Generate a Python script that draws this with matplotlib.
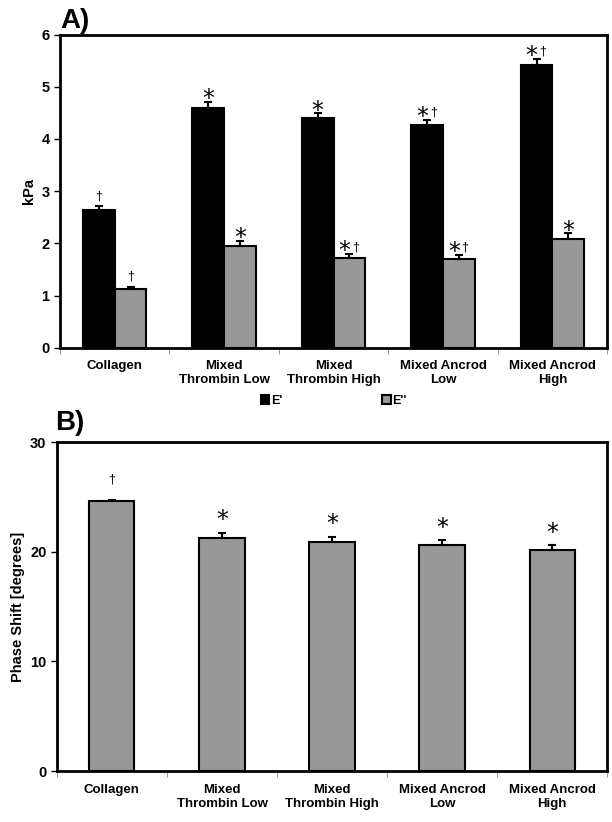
import numpy as np
from matplotlib import pyplot as plt

plt.rcParams['font.family'] = ['Liberation Sans', 'DejaVu Sans']
plt.rcParams['font.weight'] = 'bold'

groups = ["Collagen", "Mixed\nThrombin Low", "Mixed\nThrombin High", "Mixed Ancrod\nLow", "Mixed Ancrod\nHigh"]

e_storage = [2.63, 4.60, 4.41, 4.26, 5.42]
e_storage_err = [0.08, 0.11, 0.08, 0.10, 0.12]
e_loss = [1.13, 1.94, 1.71, 1.70, 2.09]
e_loss_err = [0.04, 0.10, 0.08, 0.08, 0.10]
e_storage_marks = ["\u2020", "*", "*", "*\u2020", "*\u2020"]
e_loss_marks = ["\u2020", "*", "*\u2020", "*\u2020", "*"]

phase = [24.6, 21.3, 20.9, 20.6, 20.2]
phase_err = [0.15, 0.45, 0.45, 0.45, 0.4]
phase_marks = ["\u2020", "*", "*", "*", "*"]

grey = "#989898"
x = np.arange(len(groups))

fig = plt.figure(figsize=(6.12, 8.22), dpi=100)
ax1 = fig.add_axes([0.098, 0.577, 0.894, 0.381])
ax2 = fig.add_axes([0.093, 0.062, 0.899, 0.400])


def style(ax, ymax, step, ylabel):
    ax.set_xlim(-0.5, len(groups) - 0.5)
    ax.set_ylim(0, ymax)
    ax.set_yticks(np.arange(0, ymax + 0.01, step))
    ax.set_xticks(x)
    ax.set_xticklabels(groups, fontsize=9.5, fontweight='bold', linespacing=1.25)
    ax.tick_params(axis='x', length=0, pad=9)
    ax.set_xticks(np.arange(-0.5, len(groups), 1), minor=True)
    ax.tick_params(axis='x', which='minor', length=4, width=0.6, color='#888888')
    ax.tick_params(axis='y', labelsize=10.5, width=1, length=4)
    for lab in ax.get_yticklabels():
        lab.set_fontweight('bold')
    for s in ax.spines.values():
        s.set_linewidth(2)
    ax.set_ylabel(ylabel, fontsize=10.5, fontweight='bold')


def marks(ax, xc, ytop, label):
    # big asterisk, small dagger, side by side when both are present
    if label == "*":
        parts = [("*", 0, -3)]
    elif label == "\u2020":
        parts = [("\u2020", 0, 5)]
    else:
        parts = [("*", -3.5, -3), ("\u2020", 4.5, 3)]
    for s, dx, dy in parts:
        if s == "*":
            ax.annotate(s, (xc, ytop), xytext=(dx, dy), textcoords='offset points',
                        ha='center', va='baseline', fontsize=17, fontweight='normal',
                        family='DejaVu Sans')
        else:
            ax.annotate(s, (xc, ytop), xytext=(dx, dy), textcoords='offset points',
                        ha='center', va='baseline', fontsize=9, fontweight='normal')


# Panel A
w = 0.29
ekw = dict(elinewidth=1.5, capsize=3, capthick=1.5, ecolor='black')
ax1.bar(x - w / 2, e_storage, w, color='black', edgecolor='black', linewidth=1.5,
        yerr=[np.zeros(5), e_storage_err], error_kw=ekw, label="E'")
ax1.bar(x + w / 2, e_loss, w, color=grey, edgecolor='black', linewidth=1.5,
        yerr=[np.zeros(5), e_loss_err], error_kw=ekw, label="E''")
for i in range(len(groups)):
    marks(ax1, x[i] - w / 2, e_storage[i] + e_storage_err[i], e_storage_marks[i])
    marks(ax1, x[i] + w / 2, e_loss[i] + e_loss_err[i], e_loss_marks[i])
style(ax1, 6, 1, "kPa")
ax1.legend(loc='upper center', bbox_to_anchor=(0.5, -0.13), ncol=2, frameon=False,
           fontsize=9, handlelength=0.7, handleheight=0.8, handletextpad=0.1,
           columnspacing=8, borderpad=0)
fig.text(0.098, 0.99, "A)", fontsize=20, fontweight='bold', va='top', ha='left')

# Panel B
wb = 0.41
ax2.bar(x, phase, wb, color=grey, edgecolor='black', linewidth=1.5,
        yerr=[np.zeros(5), phase_err], error_kw=ekw)
for i in range(len(groups)):
    marks(ax2, x[i], phase[i] + phase_err[i] + 0.9, phase_marks[i])
style(ax2, 30, 10, "Phase Shift [degrees]")
fig.text(0.09, 0.501, "B)", fontsize=20, fontweight='bold', va='top', ha='left')

plt.savefig("out.png", dpi=100)
